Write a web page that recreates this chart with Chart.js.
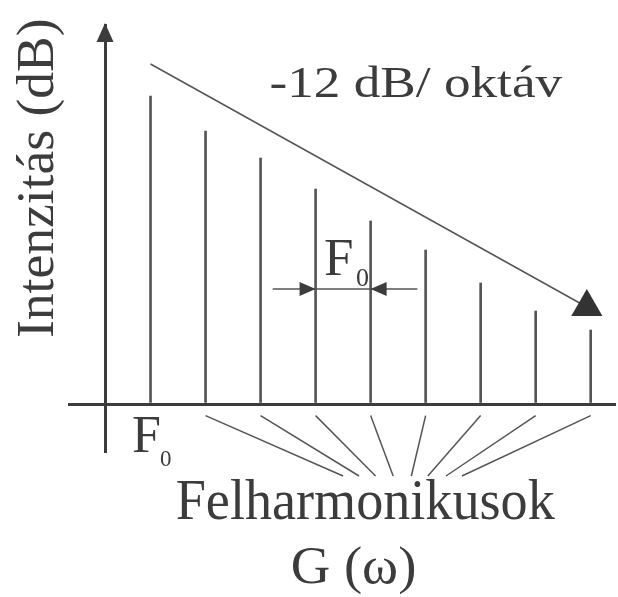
<!DOCTYPE html>
<html>
<head>
<meta charset="utf-8" />
<script src="https://cdn.jsdelivr.net/npm/chart.js@4/dist/chart.umd.min.js"></script>
<title>Felharmonikusok</title>
<style>
  html, body { margin: 0; padding: 0; background: #fff; overflow: hidden; }
  #wrap { width: 618px; height: 597px; }
  canvas { display: block; }
</style>
</head>
<body>
<div id="wrap"><canvas id="spectrum" width="618" height="597"></canvas></div>
<script>
// harmonic number and its intensity (arbitrary units)
const harmonics = [1, 2, 3, 4, 5, 6, 7, 8, 9];
const intensity = [308, 273, 246, 215, 183, 154, 121, 93, 74];

// -12 dB/octave envelope line (start, end)
const slopeX = [1, 8.93];
const slopeY = [340, 97];

// F0 spacing dimension line
const spacingX = [3.22, 5.85];
const spacingY = [115, 115];

// fan of lines from the harmonics down to the "Felharmonikusok" label
const fanStart = [2, 3, 4, 5, 6, 7, 8, 9];
const fanEnd = [4.50, 4.79, 5.09, 5.41, 5.74, 6.04, 6.37, 6.66];

const axisX = 0.173;   // where the vertical axis crosses
const fanTop = -11.6, fanBottom = -72;
const ink = '#3c3c3c', stroke = '#555';
const serif = '"Liberation Serif", "DejaVu Serif", serif';

function drawFit(ctx, text, left, baseline, size, width) {
  ctx.font = size + 'px ' + serif;
  const m = ctx.measureText(text);
  const w = m.actualBoundingBoxLeft + m.actualBoundingBoxRight;
  const sx = width ? width / w : 1;
  ctx.save();
  ctx.translate(left, baseline);
  ctx.scale(sx, 1);
  ctx.fillText(text, m.actualBoundingBoxLeft, 0);
  ctx.restore();
}

function arrowHead(ctx, x, y, dir, len, half) {
  ctx.beginPath();
  ctx.moveTo(x, y);
  ctx.lineTo(x - dir * len, y - half);
  ctx.lineTo(x - dir * len, y + half);
  ctx.closePath();
  ctx.fill();
}

const decorations = {
  id: 'decorations',
  afterDatasetsDraw(chart) {
    const ctx = chart.ctx;
    const xs = chart.scales.x, ys = chart.scales.y;
    ctx.save();
    ctx.fillStyle = ink;

    // arrow at the top of the vertical axis
    const ax = xs.getPixelForValue(axisX);
    ctx.beginPath();
    ctx.moveTo(ax, chart.chartArea.top - 1);
    ctx.lineTo(ax - 8.5, chart.chartArea.top + 18);
    ctx.lineTo(ax + 8.5, chart.chartArea.top + 18);
    ctx.closePath();
    ctx.fill();

    // arrowheads of the F0 spacing
    const sy = ys.getPixelForValue(spacingY[0]);
    arrowHead(ctx, xs.getPixelForValue(4), sy, 1, 16, 7);
    arrowHead(ctx, xs.getPixelForValue(5), sy, -1, 16, 7);

    // texts
    drawFit(ctx, '-12 dB/ oktáv', 270.7, 96.7, 45, 292);
    drawFit(ctx, 'F', 325, 275, 53);
    drawFit(ctx, '0', 356, 286, 26);
    drawFit(ctx, 'F', 133, 451.7, 52);
    drawFit(ctx, '0', 160, 465.5, 23);
    drawFit(ctx, 'Felharmonikusok', 176.7, 519.3, 56, 378);
    drawFit(ctx, 'G (ω)', 292.7, 583, 53, 122);

    ctx.save();
    ctx.translate(53, 337);
    ctx.rotate(-Math.PI / 2);
    drawFit(ctx, 'Intenzitás (dB)', 0, 0, 53, 317);
    ctx.restore();

    ctx.restore();
  }
};

const fanSets = fanStart.map((s, i) => ({
  type: 'line',
  data: [{ x: s, y: fanTop }, { x: fanEnd[i], y: fanBottom }],
  borderColor: stroke,
  borderWidth: 1.5,
  pointRadius: 0,
  clip: false
}));

new Chart(document.getElementById('spectrum'), {
  type: 'bar',
  data: {
    datasets: [
      {
        data: harmonics.map((h, i) => ({ x: h, y: intensity[i] })),
        backgroundColor: stroke,
        barThickness: 2
      },
      {
        type: 'line',
        data: slopeX.map((x, i) => ({ x: x, y: slopeY[i] })),
        borderColor: stroke,
        borderWidth: 1.5,
        pointRadius: [0, 18],
        pointStyle: 'triangle',
        pointBackgroundColor: '#333',
        pointBorderColor: '#333',
        pointBorderWidth: 0,
        clip: false
      },
      {
        type: 'line',
        data: spacingX.map((x, i) => ({ x: x, y: spacingY[i] })),
        borderColor: stroke,
        borderWidth: 1.5,
        pointRadius: 0
      }
    ].concat(fanSets)
  },
  options: {
    responsive: false,
    animation: false,
    layout: { autoPadding: false, padding: { left: 68, right: 2, top: 24, bottom: 144 } },
    plugins: { legend: { display: false }, tooltip: { enabled: false } },
    scales: {
      x: {
        type: 'linear',
        offset: false,
        min: -0.5,
        max: 9.46,
        afterBuildTicks: (s) => { s.ticks = [{ value: axisX }]; },
        ticks: { display: false },
        grid: { color: ink, lineWidth: 3, drawTicks: false, offset: false },
        border: { display: false }
      },
      y: {
        min: -49,
        max: 380,
        afterBuildTicks: (s) => { s.ticks = [{ value: 0 }]; },
        ticks: { display: false },
        grid: { color: ink, lineWidth: 3, drawTicks: false },
        border: { display: false }
      }
    }
  },
  plugins: [decorations]
});
</script>
</body>
</html>
